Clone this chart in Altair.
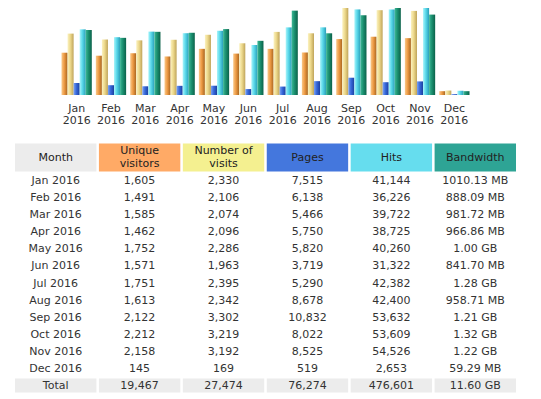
import altair as alt
import pandas as pd

# ---------------- data ----------------
months = ["Jan 2016", "Feb 2016", "Mar 2016", "Apr 2016", "May 2016", "Jun 2016",
          "Jul 2016", "Aug 2016", "Sep 2016", "Oct 2016", "Nov 2016", "Dec 2016"]
unique_visitors = [1605, 1491, 1585, 1462, 1752, 1571, 1751, 1613, 2122, 2212, 2158, 145]
visits = [2330, 2106, 2074, 2096, 2286, 1963, 2395, 2342, 3302, 3219, 3192, 169]
pages = [7515, 6138, 5466, 5750, 5820, 3719, 5290, 8678, 10832, 8022, 8525, 519]
hits = [41144, 36226, 39722, 38725, 40260, 31322, 42382, 42400, 53632, 53609, 54526, 2653]
bandwidth = ["1010.13 MB", "888.09 MB", "981.72 MB", "966.86 MB", "1.00 GB", "841.70 MB",
             "1.28 GB", "958.71 MB", "1.21 GB", "1.32 GB", "1.22 GB", "59.29 MB"]
totals = ["Total", "19,467", "27,474", "76,274", "476,601", "11.60 GB"]

col_keys = ["month", "u", "v", "p", "h", "k"]
col_titles = ["Month", "Unique\nvisitors", "Number of\nvisits", "Pages", "Hits", "Bandwidth"]
header_colors = ["#ECECEC", "#FFAA66", "#F4F090", "#4477DD", "#66DDEE", "#2EA495"]

metrics = ["u", "v", "p", "h", "k"]
bar_gradients = {
    "u": ["#F9C98A", "#EE9B45", "#A8651F"],
    "v": ["#FBF2C0", "#EDD98C", "#BFA45A"],
    "p": ["#7AA2F2", "#3768DA", "#1B3F9E"],
    "h": ["#A8F4FA", "#5AD8EA", "#2A9FB8"],
    "k": ["#3DB895", "#1B9070", "#0B6149"],
}


def to_mb(s):
    v, unit = s.split()
    return float(v) * (1024 if unit == "GB" else 1)


bw_mb = [to_mb(s) for s in bandwidth]

# ---------------- bar chart ----------------
vmax = max(visits)
hmax = max(hits)
kmax = max(bw_mb)
bar_rows = []
for i, m in enumerate(months):
    bar_rows += [
        {"month": m, "metric": "u", "norm": unique_visitors[i] / vmax},
        {"month": m, "metric": "v", "norm": visits[i] / vmax},
        {"month": m, "metric": "p", "norm": pages[i] / hmax},
        {"month": m, "metric": "h", "norm": hits[i] / hmax},
        {"month": m, "metric": "k", "norm": bw_mb[i] / kmax},
    ]
bars_df = pd.DataFrame(bar_rows)

x_month = alt.X(
    "month:N", sort=months,
    scale=alt.Scale(domain=months, paddingInner=0.118, paddingOuter=0),
    axis=alt.Axis(title=None, domain=False, ticks=False, labelAngle=0,
                  labelExpr="split(datum.label, ' ')", labelFont="DejaVu Sans",
                  labelFontSize=11, labelColor="#333333", labelPadding=7,
                  labelLineHeight=12.5),
)
layers = []
for key in metrics:
    s = bar_gradients[key]
    grad = alt.Gradient(
        gradient="linear", x1=0, x2=1, y1=0, y2=0,
        stops=[alt.GradientStop(color=s[0], offset=0),
               alt.GradientStop(color=s[1], offset=0.45),
               alt.GradientStop(color=s[2], offset=1)],
    )
    layers.append(
        alt.Chart(bars_df)
        .transform_filter(alt.datum.metric == key)
        .mark_bar(color=grad)
        .encode(
            x=x_month,
            xOffset=alt.XOffset("metric:N", scale=alt.Scale(domain=metrics, paddingInner=0, paddingOuter=0)),
            y=alt.Y("norm:Q", scale=alt.Scale(domain=[0, 1]), axis=None),
        )
    )
bar_chart = alt.layer(*layers).properties(width=408, height=87)

# ---------------- table header ----------------
header_df = pd.DataFrame({"col": col_keys, "label": col_titles, "bg": header_colors})
x_col = alt.X("col:N", sort=col_keys,
              scale=alt.Scale(domain=col_keys, paddingInner=0.03, paddingOuter=0),
              axis=None)
header_rect = alt.Chart(header_df).mark_rect().encode(
    x=x_col, color=alt.Color("bg:N", scale=None)
)
text_style = dict(font="DejaVu Sans", fontSize=11, color="#222222")
header_text_one = alt.Chart(header_df).transform_filter(
    "indexof(datum.label, '\\n') < 0"
).mark_text(**text_style).encode(x=x_col, text="label:N")
header_text_two = alt.Chart(header_df).transform_filter(
    "indexof(datum.label, '\\n') >= 0"
).mark_text(lineBreak="\n", lineHeight=13, dy=-6.5, **text_style).encode(
    x=x_col, text="label:N"
)
header = alt.layer(header_rect, header_text_one, header_text_two).properties(
    width=501, height=28
)

# ---------------- table body ----------------
row_keys = months + ["Total"]
body_rows = []
for i, m in enumerate(months):
    vals = [m, f"{unique_visitors[i]:,}", f"{visits[i]:,}", f"{pages[i]:,}",
            f"{hits[i]:,}", bandwidth[i]]
    for c, v in zip(col_keys, vals):
        body_rows.append({"row": m, "col": c, "text": v})
for c, v in zip(col_keys, totals):
    body_rows.append({"row": "Total", "col": c, "text": v})
body_df = pd.DataFrame(body_rows)

y_row = alt.Y("row:N", sort=row_keys,
              scale=alt.Scale(domain=row_keys, paddingInner=0.18, paddingOuter=0),
              axis=None)
total_rect = alt.Chart(body_df).transform_filter(alt.datum.row == "Total").mark_rect(
    color="#ECECEC"
).encode(x=x_col, y=y_row)
body_text = alt.Chart(body_df).mark_text(
    font="DejaVu Sans", fontSize=11, color="#333333"
).encode(x=x_col, y=y_row, text="text:N")
body = alt.layer(total_rect, body_text).properties(width=501, height=218)

chart = (
    alt.vconcat(bar_chart, alt.vconcat(header, body, spacing=3), spacing=17.5, center=True)
    .properties(padding={"left": 7, "top": 0, "right": 5, "bottom": 0})
    .configure_view(stroke=None)
)

chart.save("out.html", embed_options={"renderer": "svg", "actions": False})
